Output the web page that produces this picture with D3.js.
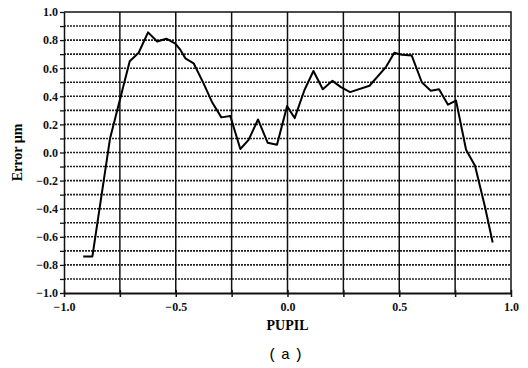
<!DOCTYPE html>
<html>
<head>
<meta charset="utf-8">
<script src="https://cdn.jsdelivr.net/npm/d3@7"></script>
<style>
  body { margin: 0; background: #fff; }
  svg { display: block; }
</style>
</head>
<body>
<div id="chart"></div>
<script>
const width = 528, height = 368;
const margin = { top: 12, right: 17, bottom: 75, left: 64 };
const innerWidth = width - margin.left - margin.right;
const innerHeight = height - margin.top - margin.bottom;

// pupil position and error (µm)
const pupil = [-0.914, -0.873, -0.794, -0.706, -0.666, -0.624, -0.583, -0.542, -0.502, -0.479,
  -0.457, -0.420, -0.375, -0.338, -0.296, -0.256, -0.211, -0.174, -0.132, -0.089,
  -0.047, -0.002, 0.032, 0.076, 0.116, 0.158, 0.201, 0.239, 0.280, 0.367,
  0.441, 0.478, 0.512, 0.556, 0.601, 0.641, 0.678, 0.718, 0.754, 0.799,
  0.839, 0.884, 0.918];
const error = [-0.74, -0.74, 0.10, 0.65, 0.71, 0.855, 0.79, 0.81, 0.775, 0.73,
  0.67, 0.635, 0.49, 0.36, 0.25, 0.26, 0.025, 0.09, 0.235, 0.07,
  0.055, 0.33, 0.245, 0.445, 0.58, 0.45, 0.51, 0.465, 0.43, 0.475,
  0.61, 0.71, 0.695, 0.69, 0.50, 0.44, 0.45, 0.34, 0.37, 0.02,
  -0.095, -0.39, -0.64];

const xTicks = [-1.0, -0.75, -0.5, -0.25, 0, 0.25, 0.5, 0.75, 1.0];
const xLabels = [-1.0, -0.5, 0.0, 0.5, 1.0];
const yTicks = d3.range(-10, 11).map(i => i / 10);
const yLabels = [-1.0, -0.8, -0.6, -0.4, -0.2, 0.0, 0.2, 0.4, 0.6, 0.8, 1.0];

const data = pupil.map((p, i) => ({ x: p, y: error[i] }));
const serif = "'Liberation Serif', 'Times New Roman', serif";

const svg = d3.select("#chart")
  .append("svg")
    .attr("width", width)
    .attr("height", height);

const innerChart = svg
  .append("g")
    .attr("transform", `translate(${margin.left}, ${margin.top})`);

const xScale = d3.scaleLinear()
  .domain([-1, 1])
  .range([0, innerWidth]);

const yScale = d3.scaleLinear()
  .domain([-1, 1])
  .range([innerHeight, 0]);

// horizontal grid (dotted, heavy)
innerChart.append("g")
  .selectAll("line")
  .data(yTicks.filter(d => Math.abs(d) < 0.99))
  .join("line")
    .attr("x1", 0)
    .attr("x2", innerWidth)
    .attr("y1", d => yScale(d))
    .attr("y2", d => yScale(d))
    .attr("stroke", "#222")
    .attr("stroke-width", 1.6)
    .attr("stroke-dasharray", "2,1");

// vertical grid
innerChart.append("g")
  .selectAll("line")
  .data(xTicks.slice(1, -1))
  .join("line")
    .attr("x1", d => xScale(d))
    .attr("x2", d => xScale(d))
    .attr("y1", 0)
    .attr("y2", innerHeight)
    .attr("stroke", "#111")
    .attr("stroke-width", 1.5);

// frame top / right
innerChart.append("path")
  .attr("d", `M0,0H${innerWidth}V${innerHeight}`)
  .attr("fill", "none")
  .attr("stroke", "#111")
  .attr("stroke-width", 1.5);

const bottomAxis = d3.axisBottom(xScale)
  .tickValues(xTicks)
  .tickFormat(d => d3.format(".1f")(d))
  .tickSize(4)
  .tickSizeOuter(0);

const gx = innerChart.append("g")
  .attr("transform", `translate(0, ${innerHeight})`)
  .call(bottomAxis);
gx.select(".domain").attr("stroke", "#111").attr("stroke-width", 2);
gx.selectAll(".tick line").attr("stroke", "#111").attr("stroke-width", 1.5).attr("y1", -3);
gx.selectAll(".tick text")
  .filter(d => !xLabels.includes(d))
  .remove();
gx.selectAll(".tick text")
  .attr("dy", "0.95em")
  .style("font-family", serif)
  .style("font-weight", "bold")
  .style("font-size", "12px")
  .style("fill", "#111");

const leftAxis = d3.axisLeft(yScale)
  .tickValues(yTicks)
  .tickFormat(d => d3.format(".1f")(d))
  .tickSize(4)
  .tickSizeOuter(0);

const gy = innerChart.append("g")
  .call(leftAxis);
gy.select(".domain").attr("stroke", "#111").attr("stroke-width", 1.5);
gy.selectAll(".tick line").attr("stroke", "#111").attr("stroke-width", 1.3);
gy.selectAll(".tick text")
  .filter(d => !yLabels.some(v => Math.abs(v - d) < 1e-9))
  .remove();
gy.selectAll(".tick text")
  .attr("x", -6)
  .style("font-family", serif)
  .style("font-weight", "bold")
  .style("font-size", "12px")
  .style("fill", "#111");

// the error curve
const line = d3.line()
  .x(d => xScale(d.x))
  .y(d => yScale(d.y));

innerChart.append("path")
  .datum(data)
  .attr("d", line)
  .attr("fill", "none")
  .attr("stroke", "#000")
  .attr("stroke-width", 2)
  .attr("stroke-linejoin", "round");

// titles
svg.append("text")
  .attr("x", margin.left + innerWidth / 2)
  .attr("y", 330)
  .attr("text-anchor", "middle")
  .style("font-family", serif)
  .style("font-weight", "bold")
  .style("font-size", "14px")
  .text("PUPIL");

svg.append("text")
  .attr("transform", `translate(22, ${margin.top + innerHeight / 2}) rotate(-90)`)
  .attr("text-anchor", "middle")
  .style("font-family", serif)
  .style("font-weight", "bold")
  .style("font-size", "14px")
  .text("Error µm");

svg.append("text")
  .attr("x", margin.left + innerWidth / 2)
  .attr("y", 359)
  .attr("text-anchor", "middle")
  .style("font-family", "'Liberation Mono', monospace")
  .style("font-size", "15px")
  .style("letter-spacing", "4px")
  .text("(a)");
</script>
</body>
</html>
